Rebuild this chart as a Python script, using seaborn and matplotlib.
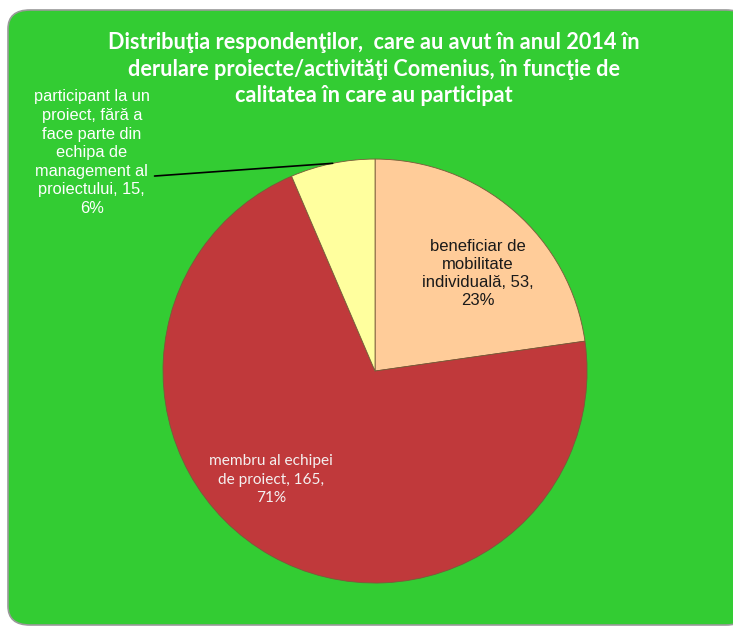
import matplotlib.pyplot as plt
import seaborn as sns
from matplotlib.patches import FancyBboxPatch

# Date
categorii = ['beneficiar de\nmobilitate\nindividuală', 'membru al echipei\nde proiect', 'participant la un\nproiect, fără a\nface parte din\nechipa de\nmanagement al\nproiectului']
valori = [53, 165, 15]
procente = ['23%', '71%', '6%']
culori = ['#FFCC99', '#C0393B', '#FFFF9E']

titlu = ('Distribuţia respondenţilor,  care au avut în anul 2014 în\n'
         'derulare proiecte/activităţi Comenius, în funcţie de\n'
         'calitatea în care au participat')

sns.set_style('white')

fig = plt.figure(figsize=(7.33, 6.29), dpi=100)
fig.patch.set_facecolor('white')

# Fundal verde rotunjit
panou = FancyBboxPatch((8 / 733, 1 - 625 / 629), 740 / 733, 615 / 629,
                       boxstyle='round,pad=0,rounding_size=0.03',
                       transform=fig.transFigure, facecolor='#33CC33',
                       edgecolor='#9a9a9a', linewidth=1.2, zorder=-5)
fig.patches.append(panou)

ax = fig.add_axes([0.2224, 0.0731, 0.5785, 0.674])
ax.set_facecolor('none')
wedges, _ = ax.pie(valori, colors=culori, startangle=90, counterclock=False,
                   wedgeprops=dict(edgecolor='#7a5a3a', linewidth=0.6))
ax.set_xlim(-1, 1)
ax.set_ylim(-1, 1)
ax.set_aspect('auto')

# Etichete
ax.text(0.483, 0.46, f'{categorii[0]}, {valori[0]},\n{procente[0]}', ha='center', va='center',
        fontsize=12, family='Liberation Sans', color='#1a1a1a', linespacing=1.25)
ax.text(-0.49, -0.513, f'{categorii[1]}, {valori[1]},\n{procente[1]}', ha='center', va='center',
        fontsize=11.1, family='Lato', color='#f4f0f0', linespacing=1.39)
ax.text(-1.336, 1.03, f'{categorii[2]}, {valori[2]},\n{procente[2]}', ha='center', va='center',
        fontsize=11.8, family='Liberation Sans', color='white', linespacing=1.3,
        clip_on=False)
ax.plot([-1.04, -0.2], [0.92, 0.98], color='black', linewidth=1.2, clip_on=False)

fig.text(0.51, 1 - 69 / 629, titlu, ha='center', va='center', fontsize=15.6,
         family='Lato', fontweight='bold', color='white', linespacing=1.35)

fig.savefig('out.png', dpi=100, facecolor=fig.get_facecolor())
